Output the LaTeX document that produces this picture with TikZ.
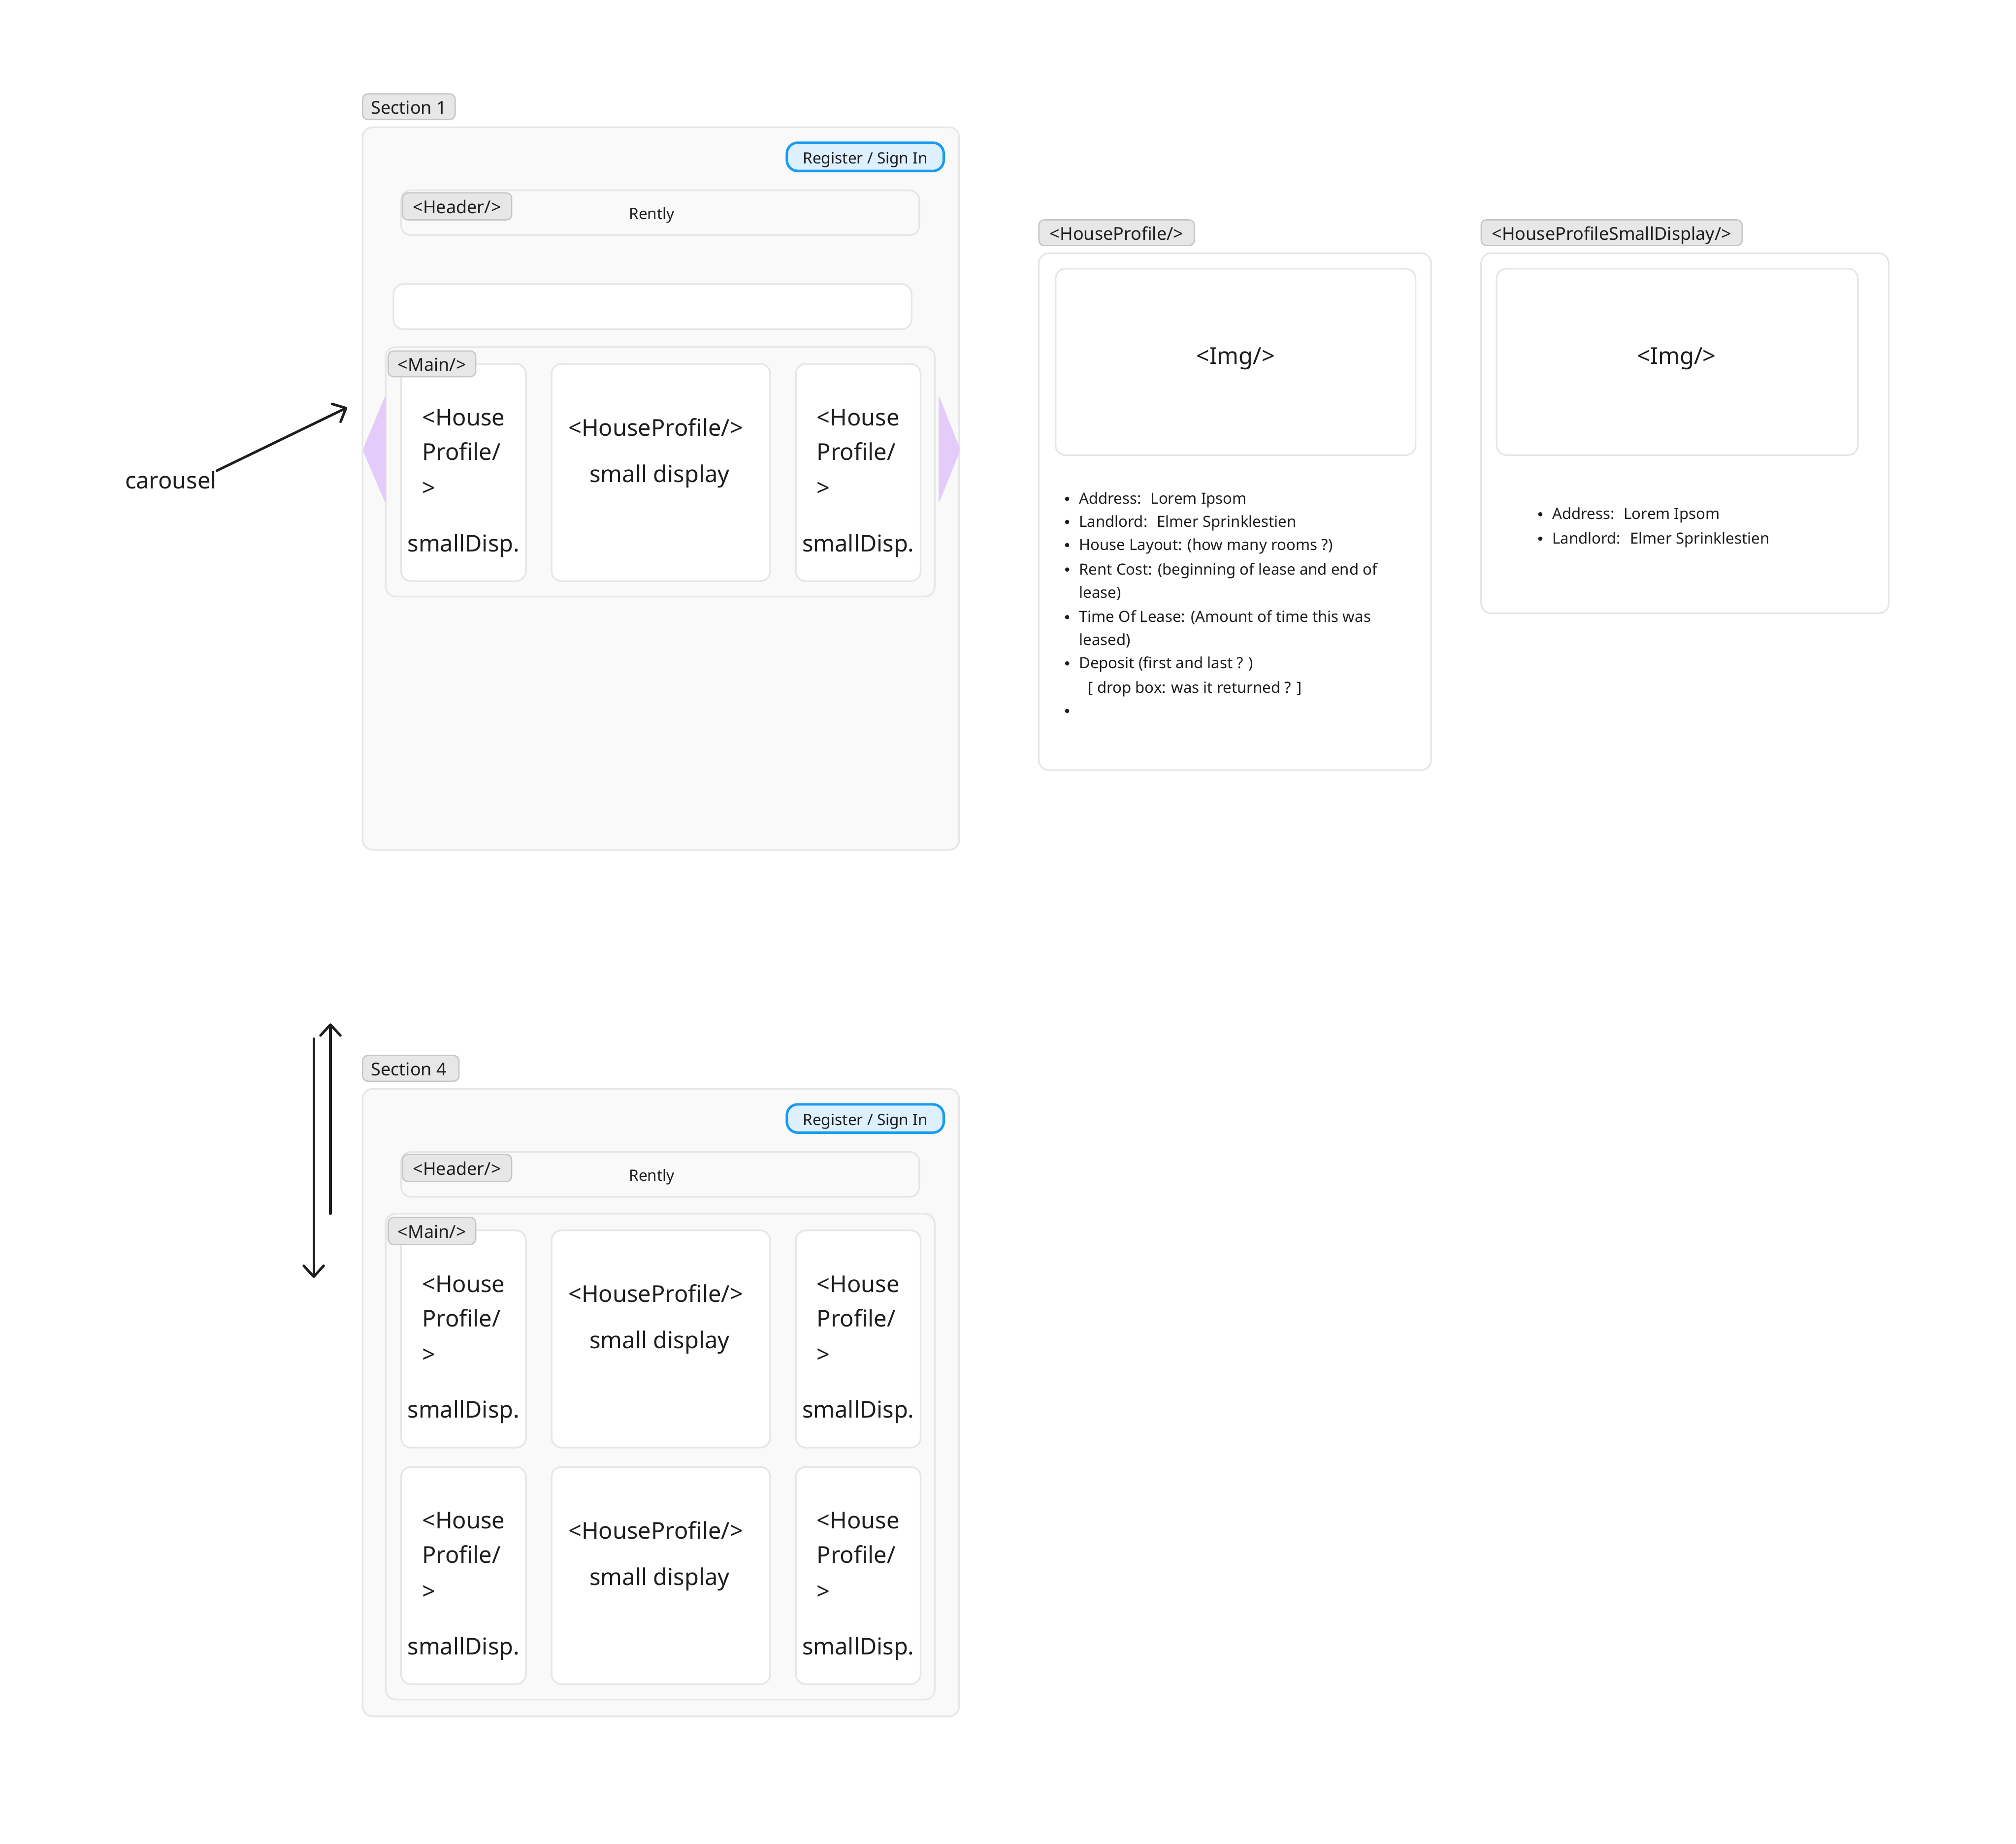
\documentclass[tikz,border=0pt]{standalone}
\usepackage{fontspec}
\setmainfont{Noto Sans}
\usetikzlibrary{arrows.meta}
\definecolor{edge}{HTML}{E6E6E6}
\definecolor{tagfill}{HTML}{E7E7E7}
\definecolor{tagedge}{HTML}{C6C6C6}
\definecolor{panel}{HTML}{F9F9F9}
\definecolor{ink}{HTML}{1E1E1E}
\definecolor{btnfill}{HTML}{DDF0FE}
\definecolor{btnedge}{HTML}{1A9BF2}
\definecolor{lilac}{HTML}{E3CCFA}

% three house cards in a row: #1 = top edge, #2 = name prefix
\newcommand\cardrow[2]{%
  \foreach \cx/\side in {312/l, 619/r} {
    \draw[card] (\cx,#1) rectangle (\cx+97,#1+169);
    \node[big, anchor=base west] (#2\side1) at (\cx+16,#1+48) {<House};
    \node[big, anchor=base west] (#2\side2) at (\cx+16,#1+75) {Profile/};
    \node[big, anchor=base west] (#2\side3) at (\cx+16,#1+103) {>};
    \node[big, anchor=base] (#2\side4) at (\cx+48.5,#1+146) {smallDisp.};
  }
  \draw[card] (429,#1) rectangle (599,#1+169);
  \node[big, anchor=base] (#2m1) at (510,#1+56) {<HouseProfile/>};
  \node[big, anchor=base] (#2m2) at (513,#1+92) {small display};
}

\begin{document}
\begin{tikzpicture}[x=0.025cm, y=-0.025cm,
    frame/.style={draw=edge, line width=0.9pt, fill=panel, rounded corners=5.5pt},
    card/.style={draw=edge, line width=0.9pt, fill=white, rounded corners=5.5pt},
    tagbox/.style={draw=tagedge, line width=0.7pt, fill=tagfill, rounded corners=3pt},
    btn/.style={draw=btnedge, line width=1.4pt, fill=btnfill, rounded corners=6pt},
    lbl/.style={inner sep=0pt, text=ink, text height=0.72em, text depth=0.2em,
      font=\fontsize{9.8}{12}\selectfont},
    big/.style={inner sep=0pt, text=ink, font=\fontsize{12.8}{15}\selectfont},
    small/.style={inner sep=0pt, text=ink, text height=0.72em, text depth=0.2em,
      font=\fontsize{8.6}{10}\selectfont},
    item/.style={inner sep=0pt, text=ink, anchor=base west, font=\fontsize{8.5}{10}\selectfont},
    dot/.style={circle, fill=ink, inner sep=0pt, minimum size=2.4pt},
    pointer/.style={draw=ink, line width=1.4pt, line cap=round,
      -{Straight Barb[length=6pt, width=11pt, round]}}
  ]
  \fill[white] (0,0) rectangle (1568,1434);
  \useasboundingbox (0,0) rectangle (1568,1434);

  % page frames, shared parts
  \foreach \oy/\num/\bot/\tw in {0/1/661/354, 748/4/1335/357} {
    \draw[frame] (282,99+\oy) rectangle (746,\bot);
    \draw[tagbox] (282,73+\oy) rectangle (\tw,93+\oy);
    \node[lbl] (sec\num) at (318,85+\oy) {Section \num};
    \draw[btn] (612,111+\oy) rectangle (734,133+\oy);
    \node[small] (reg\num) at (673,123.5+\oy) {Register / Sign In};
    \draw[frame] (312,148+\oy) rectangle (715,183+\oy);
    \draw[tagbox] (313,150+\oy) rectangle (398,171+\oy);
    \node[lbl] (hdr\num) at (355.5,162.5+\oy) {<Header/>};
    \node[small] (brand\num) at (507,167+\oy) {Rently};
  }

  % section 1: search bar and carousel
  \draw[card] (306,221) rectangle (709,256);
  \draw[frame] (300,270) rectangle (727,464);
  \cardrow{283}{c}
  \draw[tagbox] (302,273) rectangle (370,293);
  \node[lbl] (main1) at (336,285) {<Main/>};
  \fill[lilac, rounded corners=2pt] (300,307) -- (282,350) -- (300,392) -- cycle;
  \fill[lilac, rounded corners=2pt] (730,307) -- (747,350) -- (730,392) -- cycle;

  \node[big, anchor=base west] (carousel) at (97,380) {carousel};
  \coordinate (carouseltip) at (270,317);
  \draw[pointer] (carousel.north east) -- (carouseltip);

  % section 4: grid
  \draw[frame] (300,944) rectangle (727,1322);
  \cardrow{957}{a}
  \cardrow{1141}{b}
  \draw[tagbox] (302,947) rectangle (370,968);
  \node[lbl] (main4) at (336,959.5) {<Main/>};

  % scroll arrows
  \coordinate (upfoot) at (257,944);
  \coordinate (uphead) at (257,796);
  \coordinate (dnfoot) at (244,808);
  \coordinate (dnhead) at (244,994);
  \draw[pointer] (upfoot) -- (uphead);
  \draw[pointer] (dnfoot) -- (dnhead);

  % house profile
  \draw[tagbox] (808,171) rectangle (929,191);
  \node[lbl] (hp) at (868.5,183) {<HouseProfile/>};
  \draw[card] (808,197) rectangle (1113,599);
  \draw[card] (821,209) rectangle (1101,354);
  \node[big] (hpimg) at (961,279) {<Img/>};
  \foreach \y in {392,410,428,447,484,520,557}
    \node[dot] (dot\y) at (830,\y-4) {};
  \foreach \y/\txt in {392/{Address:~ Lorem Ipsom},
      410/{Landlord:~ Elmer Sprinklestien},
      428/{House Layout: (how many rooms ?)},
      447/{Rent Cost: (beginning of lease and end of},
      465/{lease)},
      484/{Time Of Lease: (Amount of time this was},
      502/{leased)},
      520/{Deposit (first and last ? )}}
    \node[item] (hpline\y) at (839,\y) {\txt};
  \node[item] (hpdrop) at (846,539) {[ drop box: was it returned ? ]};

  % house profile small display
  \draw[tagbox] (1152,171) rectangle (1355,191);
  \node[lbl] (hps) at (1253.5,183) {<HouseProfileSmallDisplay/>};
  \draw[card] (1152,197) rectangle (1469,477);
  \draw[card] (1164,209) rectangle (1445,354);
  \node[big] (hpsimg) at (1304,279) {<Img/>};
  \node[dot] (sdot1) at (1198,400) {};
  \node[dot] (sdot2) at (1198,419) {};
  \node[item] (hpsline1) at (1207,404) {Address:~ Lorem Ipsom};
  \node[item] (hpsline2) at (1207,423) {Landlord:~ Elmer Sprinklestien};
\end{tikzpicture}
\end{document}
